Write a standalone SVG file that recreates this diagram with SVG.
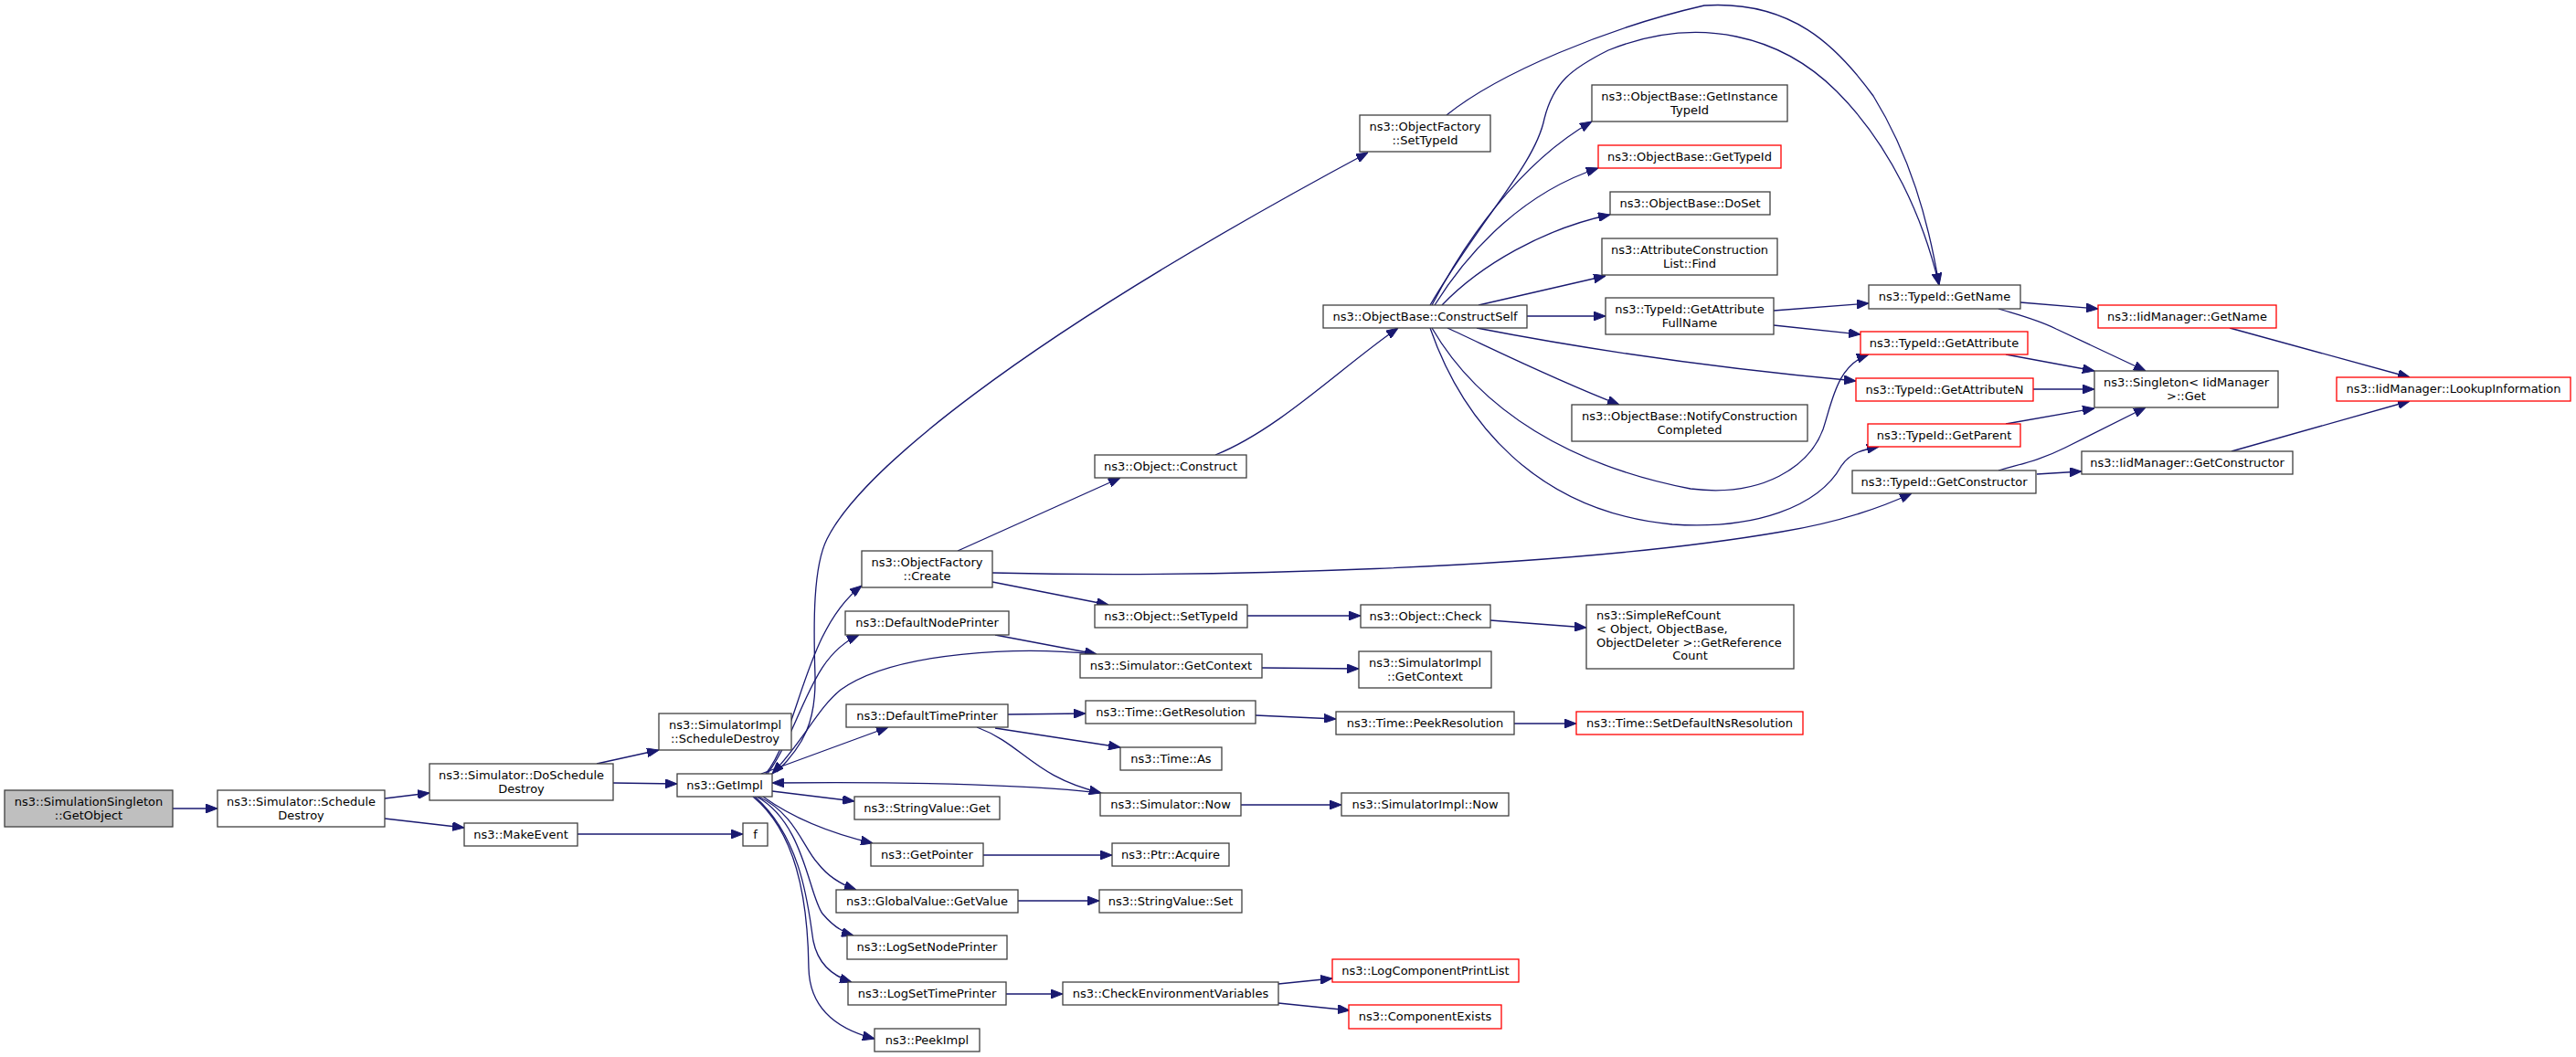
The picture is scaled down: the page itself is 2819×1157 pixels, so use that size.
<svg xmlns="http://www.w3.org/2000/svg" width="2819" height="1157" viewBox="0 0 2819 1157">
<style>
.n rect{fill:#ffffff;stroke:#404040;stroke-width:1.3}
.n.r rect{stroke:#ff0000}
.n.g rect{fill:#bfbfbf}
text{font-family:"DejaVu Sans","Liberation Sans",sans-serif;font-size:13px;text-anchor:middle;fill:#000}
.l{text-anchor:start}
#edges path{fill:none;stroke:#191970;stroke-width:1.3;marker-end:url(#a)}
</style>
<defs>
<marker id="a" markerUnits="userSpaceOnUse" viewBox="0 0 13 10" refX="13" refY="5" markerWidth="13" markerHeight="10" orient="auto">
<path d="M0,0 L13,5 L0,10 z" fill="#191970" stroke="#191970" stroke-width="1"/>
</marker>
</defs>
<rect x="0" y="0" width="2819" height="1157" fill="#ffffff"/>
<g id="edges">
<path d="M189,885 L238,885"/>
<path d="M421,874 L470,868"/>
<path d="M421,896 L508,906"/>
<path d="M653,836 L721,821"/>
<path d="M671,857 L741,858"/>
<path d="M632,913 L813,913"/>
<path d="M838,847 C875,800 880,690 943,641"/>
<path d="M840,847 C880,790 885,720 940,695"/>
<path d="M850,845 C880,815 893,790 892,740 C890,680 890,620 905,590 C940,520 1100,380 1497,167"/>
<path d="M1197,716 C1120,708 980,712 920,755 C895,775 880,810 845,847"/>
<path d="M833,847 L972,796"/>
<path d="M1210,869 C1150,860 1000,855 845,857"/>
<path d="M845,866 L935,877"/>
<path d="M835,872 C860,890 900,910 955,923"/>
<path d="M830,872 C870,890 880,930 895,945 C905,958 920,968 937,974"/>
<path d="M828,872 C880,900 885,980 900,1000 C910,1012 920,1020 934,1024"/>
<path d="M826,872 C880,920 885,1000 890,1030 C895,1055 910,1068 932,1075"/>
<path d="M824,872 C870,910 884,980 885,1060 C886,1100 910,1125 957,1137"/>
<path d="M1048,603 L1226,523"/>
<path d="M1086,637 L1213,662"/>
<path d="M1086,627 C1300,632 1700,625 1950,582 C2010,572 2060,555 2092,540"/>
<path d="M1089,695 L1200,716"/>
<path d="M1381,731 L1487,732"/>
<path d="M1103,782 L1188,781"/>
<path d="M1089,797 L1226,818"/>
<path d="M1069,796 C1120,815 1130,850 1205,868"/>
<path d="M1365,674 L1489,674"/>
<path d="M1631,679 L1736,687"/>
<path d="M1374,783 L1462,787"/>
<path d="M1657,792 L1725,792"/>
<path d="M1358,881 L1468,881"/>
<path d="M1076,936 L1217,936"/>
<path d="M1114,986 L1203,986"/>
<path d="M1101,1088 L1163,1088"/>
<path d="M1399,1077 L1458,1071"/>
<path d="M1399,1098 L1477,1106"/>
<path d="M1330,498 C1400,470 1470,400 1530,359"/>
<path d="M1671,346 L1757,346"/>
<path d="M1618,334 L1757,302"/>
<path d="M1578,334 C1620,290 1690,250 1762,235"/>
<path d="M1570,334 C1610,270 1670,210 1749,184"/>
<path d="M1567,334 C1600,270 1660,180 1742,133"/>
<path d="M1565,334 C1620,240 1680,180 1690,130 C1700,90 1720,75 1760,55 C1860,15 1950,40 2010,100 C2070,160 2105,240 2122,312"/>
<path d="M1583,126 C1640,80 1760,30 1865,6 C1960,0 2010,50 2050,105 C2090,170 2110,240 2122,312"/>
<path d="M1584,359 C1640,385 1700,415 1772,443"/>
<path d="M1616,359 C1750,385 1900,405 2031,417"/>
<path d="M1567,359 C1620,450 1720,510 1850,535 C1930,545 1980,510 1995,470 C2005,440 2010,400 2045,388"/>
<path d="M1565,359 C1600,460 1680,560 1830,574 C1920,580 1990,555 2015,510 C2025,495 2040,492 2056,489"/>
<path d="M1941,340 L2045,332"/>
<path d="M1941,356 L2036,366"/>
<path d="M2211,331 L2296,338"/>
<path d="M2187,338 C2210,345 2230,350 2250,360 L2348,406"/>
<path d="M2195,388 L2292,406"/>
<path d="M2225,426 L2292,426"/>
<path d="M2195,464 L2292,447"/>
<path d="M2187,515 C2210,508 2230,505 2260,490 L2348,446"/>
<path d="M2229,519 L2278,516"/>
<path d="M2440,359 L2637,413"/>
<path d="M2442,494 L2637,439"/>
</g>
<g id="n_getobject" class="n g"><rect x="5" y="865" width="184" height="40"/><text x="97" y="882">ns3::SimulationSingleton</text><text x="97" y="897">::GetObject</text></g>
<g id="n_schedDestroy" class="n"><rect x="238" y="865" width="183" height="40"/><text x="329.5" y="882">ns3::Simulator::Schedule</text><text x="329.5" y="897">Destroy</text></g>
<g id="n_doSched" class="n"><rect x="470" y="836" width="201" height="40"/><text x="570.5" y="853">ns3::Simulator::DoSchedule</text><text x="570.5" y="868">Destroy</text></g>
<g id="n_makeEvent" class="n"><rect x="508" y="901" width="124" height="25"/><text x="570" y="918">ns3::MakeEvent</text></g>
<g id="n_simImplSched" class="n"><rect x="721" y="781" width="145" height="40"/><text x="793.5" y="798">ns3::SimulatorImpl</text><text x="793.5" y="813">::ScheduleDestroy</text></g>
<g id="n_getImpl" class="n"><rect x="741" y="847" width="104" height="25"/><text x="793" y="864">ns3::GetImpl</text></g>
<g id="n_f" class="n"><rect x="813" y="901" width="27" height="25"/><text x="826.5" y="918">f</text></g>
<g id="n_ofCreate" class="n"><rect x="943" y="603" width="143" height="40"/><text x="1014.5" y="620">ns3::ObjectFactory</text><text x="1014.5" y="635">::Create</text></g>
<g id="n_defNodePrinter" class="n"><rect x="925" y="669" width="179" height="26"/><text x="1014.5" y="686">ns3::DefaultNodePrinter</text></g>
<g id="n_defTimePrinter" class="n"><rect x="926" y="771" width="177" height="25"/><text x="1014.5" y="788">ns3::DefaultTimePrinter</text></g>
<g id="n_strGet" class="n"><rect x="935" y="872" width="159" height="25"/><text x="1014.5" y="889">ns3::StringValue::Get</text></g>
<g id="n_getPointer" class="n"><rect x="953" y="923" width="123" height="25"/><text x="1014.5" y="940">ns3::GetPointer</text></g>
<g id="n_gvGetValue" class="n"><rect x="915" y="974" width="199" height="25"/><text x="1014.5" y="991">ns3::GlobalValue::GetValue</text></g>
<g id="n_logSetNode" class="n"><rect x="927" y="1024" width="175" height="26"/><text x="1014.5" y="1041">ns3::LogSetNodePrinter</text></g>
<g id="n_logSetTime" class="n"><rect x="928" y="1075" width="173" height="25"/><text x="1014.5" y="1092">ns3::LogSetTimePrinter</text></g>
<g id="n_peekImpl" class="n"><rect x="957" y="1126" width="115" height="25"/><text x="1014.5" y="1143">ns3::PeekImpl</text></g>
<g id="n_objConstruct" class="n"><rect x="1198" y="498" width="166" height="25"/><text x="1281" y="515">ns3::Object::Construct</text></g>
<g id="n_objSetTypeId" class="n"><rect x="1198" y="662" width="167" height="25"/><text x="1281.5" y="679">ns3::Object::SetTypeId</text></g>
<g id="n_simGetContext" class="n"><rect x="1182" y="716" width="199" height="26"/><text x="1281.5" y="733">ns3::Simulator::GetContext</text></g>
<g id="n_timeGetRes" class="n"><rect x="1188" y="767" width="186" height="25"/><text x="1281" y="784">ns3::Time::GetResolution</text></g>
<g id="n_timeAs" class="n"><rect x="1226" y="818" width="111" height="25"/><text x="1281.5" y="835">ns3::Time::As</text></g>
<g id="n_simNow" class="n"><rect x="1204" y="868" width="154" height="25"/><text x="1281" y="885">ns3::Simulator::Now</text></g>
<g id="n_ptrAcquire" class="n"><rect x="1217" y="923" width="128" height="25"/><text x="1281" y="940">ns3::Ptr::Acquire</text></g>
<g id="n_strSet" class="n"><rect x="1203" y="974" width="156" height="25"/><text x="1281" y="991">ns3::StringValue::Set</text></g>
<g id="n_checkEnv" class="n"><rect x="1163" y="1075" width="236" height="25"/><text x="1281" y="1092">ns3::CheckEnvironmentVariables</text></g>
<g id="n_ofSetTypeId" class="n"><rect x="1488" y="126" width="143" height="40"/><text x="1559.5" y="143">ns3::ObjectFactory</text><text x="1559.5" y="158">::SetTypeId</text></g>
<g id="n_constructSelf" class="n"><rect x="1448" y="334" width="223" height="25"/><text x="1559.5" y="351">ns3::ObjectBase::ConstructSelf</text></g>
<g id="n_objCheck" class="n"><rect x="1489" y="662" width="142" height="25"/><text x="1560" y="679">ns3::Object::Check</text></g>
<g id="n_simImplGetContext" class="n"><rect x="1487" y="713" width="145" height="40"/><text x="1559.5" y="730">ns3::SimulatorImpl</text><text x="1559.5" y="745">::GetContext</text></g>
<g id="n_peekRes" class="n"><rect x="1462" y="779" width="195" height="25"/><text x="1559.5" y="796">ns3::Time::PeekResolution</text></g>
<g id="n_simImplNow" class="n"><rect x="1468" y="868" width="183" height="25"/><text x="1559.5" y="885">ns3::SimulatorImpl::Now</text></g>
<g id="n_logCompPrint" class="n r"><rect x="1458" y="1050" width="204" height="25"/><text x="1560" y="1067">ns3::LogComponentPrintList</text></g>
<g id="n_compExists" class="n r"><rect x="1476" y="1100" width="167" height="26"/><text x="1559.5" y="1117">ns3::ComponentExists</text></g>
<g id="n_getInstTypeId" class="n"><rect x="1742" y="93" width="214" height="40"/><text x="1849" y="110">ns3::ObjectBase::GetInstance</text><text x="1849" y="125">TypeId</text></g>
<g id="n_obGetTypeId" class="n r"><rect x="1749" y="159" width="200" height="25"/><text x="1849" y="176">ns3::ObjectBase::GetTypeId</text></g>
<g id="n_doSet" class="n"><rect x="1762" y="210" width="175" height="25"/><text x="1849.5" y="227">ns3::ObjectBase::DoSet</text></g>
<g id="n_acFind" class="n"><rect x="1753" y="261" width="192" height="40"/><text x="1849" y="278">ns3::AttributeConstruction</text><text x="1849" y="293">List::Find</text></g>
<g id="n_getAttrFull" class="n"><rect x="1757" y="326" width="184" height="40"/><text x="1849" y="343">ns3::TypeId::GetAttribute</text><text x="1849" y="358">FullName</text></g>
<g id="n_notify" class="n"><rect x="1720" y="443" width="258" height="40"/><text x="1849" y="460">ns3::ObjectBase::NotifyConstruction</text><text x="1849" y="475">Completed</text></g>
<g id="n_simpleRef" class="n"><rect x="1736" y="662" width="227" height="70"/><text class="l" x="1747" y="678">ns3::SimpleRefCount</text><text class="l" x="1747" y="693">&lt; Object, ObjectBase,</text><text class="l" x="1747" y="708"> ObjectDeleter &gt;::GetReference</text><text x="1849.5" y="722">Count</text></g>
<g id="n_setDefNs" class="n r"><rect x="1725" y="779" width="248" height="25"/><text x="1849" y="796">ns3::Time::SetDefaultNsResolution</text></g>
<g id="n_tidGetName" class="n"><rect x="2045" y="312" width="166" height="26"/><text x="2128" y="329">ns3::TypeId::GetName</text></g>
<g id="n_tidGetAttr" class="n r"><rect x="2036" y="363" width="183" height="25"/><text x="2127.5" y="380">ns3::TypeId::GetAttribute</text></g>
<g id="n_tidGetAttrN" class="n r"><rect x="2031" y="414" width="194" height="25"/><text x="2128" y="431">ns3::TypeId::GetAttributeN</text></g>
<g id="n_tidGetParent" class="n r"><rect x="2044" y="464" width="167" height="25"/><text x="2127.5" y="481">ns3::TypeId::GetParent</text></g>
<g id="n_tidGetCtor" class="n"><rect x="2027" y="515" width="201" height="25"/><text x="2127.5" y="532">ns3::TypeId::GetConstructor</text></g>
<g id="n_iidGetName" class="n r"><rect x="2296" y="334" width="195" height="25"/><text x="2393.5" y="351">ns3::IidManager::GetName</text></g>
<g id="n_singletonGet" class="n"><rect x="2292" y="406" width="201" height="40"/><text x="2392.5" y="423">ns3::Singleton&lt; IidManager</text><text x="2392.5" y="438"> &gt;::Get</text></g>
<g id="n_iidGetCtor" class="n"><rect x="2278" y="494" width="231" height="25"/><text x="2393.5" y="511">ns3::IidManager::GetConstructor</text></g>
<g id="n_lookup" class="n r"><rect x="2557" y="413" width="256" height="26"/><text x="2685" y="430">ns3::IidManager::LookupInformation</text></g>
</svg>
